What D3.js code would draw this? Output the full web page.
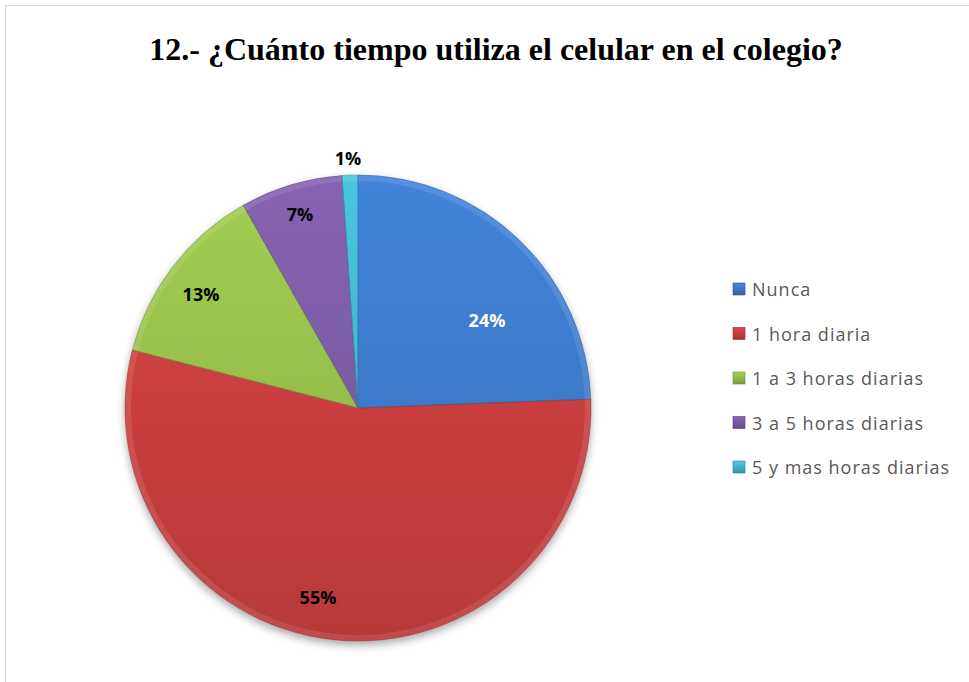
<!DOCTYPE html>
<html>
<head>
<meta charset="utf-8">
<script src="https://cdn.jsdelivr.net/npm/d3@7"></script>
<style>
  body { margin: 0; background: #fff; }
</style>
</head>
<body>
<div id="chart"></div>
<script>
const categories = ["Nunca", "1 hora diaria", "1 a 3 horas diarias", "3 a 5 horas diarias", "5 y mas horas diarias"];
const values = [24.4, 54.6, 12.8, 7.1, 1.1];
const pctLabels = ["24%", "55%", "13%", "7%", "1%"];

const sliceColors = ["#3d7bcc", "#cc3f3f", "#98c04c", "#7c5ca6", "#42b8d2"];
const labelColors = ["#fff", "#000", "#000", "#000", "#000"];

const width = 969, height = 682;
const cx = 358, cy = 408, radius = 233;

const svg = d3.select("#chart").append("svg")
  .attr("width", width)
  .attr("height", height);

const defs = svg.append("defs");

const shadow = defs.append("filter")
  .attr("id", "shadow")
  .attr("x", "-20%").attr("y", "-20%")
  .attr("width", "140%").attr("height", "140%");
shadow.append("feDropShadow")
  .attr("dx", 0).attr("dy", 4)
  .attr("stdDeviation", 4)
  .attr("flood-color", "#000")
  .attr("flood-opacity", 0.35);

sliceColors.forEach((c, i) => {
  // gradient coords are relative to the pie group (centre at 0,0)
  const g = defs.append("linearGradient")
    .attr("id", "grad" + i)
    .attr("gradientUnits", "userSpaceOnUse")
    .attr("x1", 0).attr("y1", -radius)
    .attr("x2", 0).attr("y2", radius);
  g.append("stop").attr("offset", "0%").attr("stop-color", d3.color(c).brighter(0.2));
  g.append("stop").attr("offset", "100%").attr("stop-color", d3.color(c).darker(0.3));

  const lg = defs.append("linearGradient")
    .attr("id", "lgrad" + i)
    .attr("x1", 0).attr("y1", 0).attr("x2", 0).attr("y2", 1);
  lg.append("stop").attr("offset", "0%").attr("stop-color", d3.color(c).brighter(0.3));
  lg.append("stop").attr("offset", "100%").attr("stop-color", d3.color(c).darker(0.6));
});

// chart frame
svg.append("rect")
  .attr("x", 5.5).attr("y", 5.5)
  .attr("width", width + 10).attr("height", height + 10)
  .attr("fill", "none")
  .attr("stroke", "#d9d9d9")
  .attr("stroke-width", 1);

svg.append("text")
  .attr("x", 496)
  .attr("y", 60)
  .attr("text-anchor", "middle")
  .style("font-family", "'Liberation Serif', 'Times New Roman', serif")
  .style("font-weight", "bold")
  .style("font-size", "32px")
  .text("12.- ¿Cuánto tiempo utiliza el celular en el colegio?");

const pie = d3.pie().sort(null).value(d => d);
const arcs = pie(values);

const arc = d3.arc().innerRadius(0).outerRadius(radius);
const edgeArc = d3.arc().innerRadius(radius - 6).outerRadius(radius);

const pieG = svg.append("g")
  .attr("transform", `translate(${cx}, ${cy})`);

pieG.append("g")
  .attr("filter", "url(#shadow)")
  .selectAll("path")
  .data(arcs)
  .enter()
  .append("path")
    .attr("d", arc)
    .attr("fill", (d, i) => `url(#grad${i})`);

// soft bevel along rim
pieG.selectAll(".rim")
  .data(arcs)
  .enter()
  .append("path")
    .attr("class", "rim")
    .attr("d", edgeArc)
    .attr("fill", "#fff")
    .attr("opacity", 0.1);

// slice separators
pieG.selectAll(".sep")
  .data(arcs)
  .enter()
  .append("path")
    .attr("class", "sep")
    .attr("d", arc)
    .attr("fill", "none")
    .attr("stroke", (d, i) => d3.color(sliceColors[i]).darker(0.8))
    .attr("stroke-width", 0.8)
    .attr("stroke-opacity", 0.6);

const labelPos = [
  [129, -88],
  [-40, 189],
  [-157, -114],
  [-58, -194],
  [-10, -250]
];

pieG.selectAll(".lbl")
  .data(arcs)
  .enter()
  .append("text")
    .attr("class", "lbl")
    .attr("x", (d, i) => labelPos[i][0])
    .attr("y", (d, i) => labelPos[i][1])
    .attr("text-anchor", "middle")
    .attr("dominant-baseline", "central")
    .style("font-family", "'Open Sans', 'Noto Sans', sans-serif")
    .style("font-weight", "bold")
    .style("font-size", "18px")
    .attr("fill", (d, i) => labelColors[i])
    .text((d, i) => pctLabels[i]);

const legendY = d3.scalePoint()
  .domain(categories)
  .range([289, 467]);

const legend = svg.append("g");

const items = legend.selectAll("g")
  .data(categories)
  .enter()
  .append("g")
    .attr("transform", d => `translate(733, ${legendY(d)})`);

items.append("rect")
  .attr("x", 0).attr("y", -6)
  .attr("width", 12).attr("height", 12)
  .attr("fill", (d, i) => `url(#lgrad${i})`)
  .attr("stroke", (d, i) => d3.color(sliceColors[i]).darker(1))
  .attr("stroke-width", 0.6);

items.append("text")
  .attr("x", 19)
  .attr("y", 0)
  .attr("dominant-baseline", "central")
  .style("font-family", "'Open Sans', 'Noto Sans', sans-serif")
  .style("font-size", "18px")
  .style("letter-spacing", "1px")
  .attr("fill", "#595959")
  .text(d => d);
</script>
</body>
</html>
